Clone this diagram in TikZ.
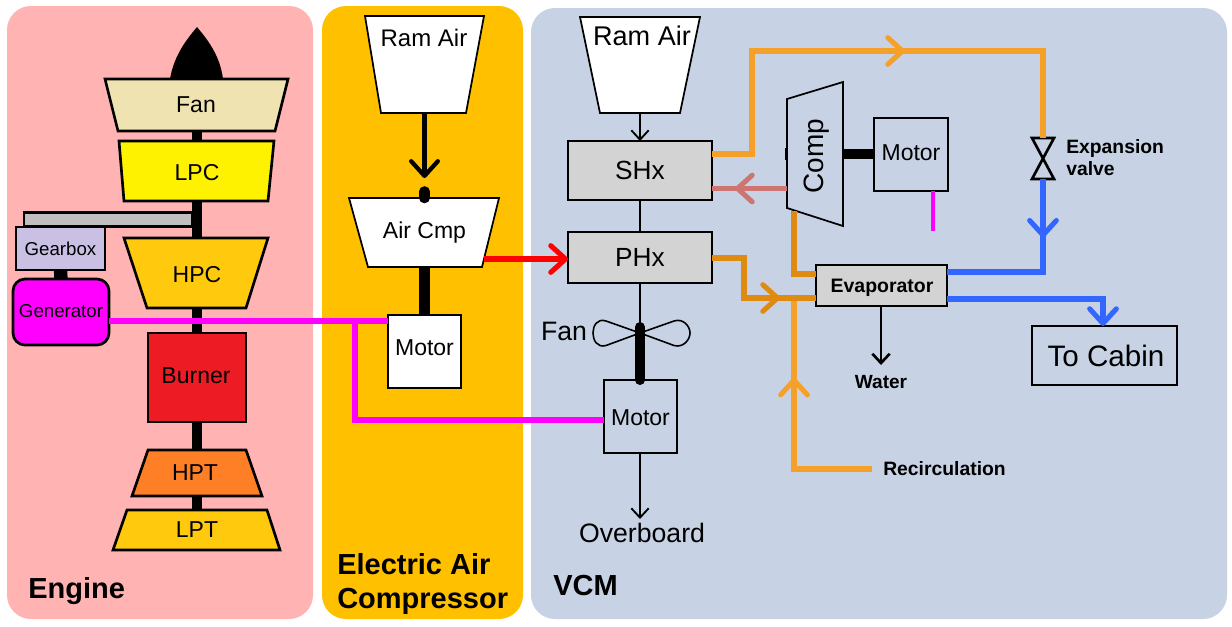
\documentclass[tikz,border=0pt]{standalone}
\usepackage{fontspec}
\setmainfont{Liberation Sans}
\usetikzlibrary{arrows.meta,decorations.markings,calc}
\definecolor{enginebg}{HTML}{FFB3B3}
\definecolor{eacbg}{HTML}{FFC000}
\definecolor{vcmbg}{HTML}{C7D3E5}
\definecolor{fanfill}{HTML}{EFE3B1}
\definecolor{lpcfill}{HTML}{FFF200}
\definecolor{hpcfill}{HTML}{FFC90E}
\definecolor{burnerfill}{HTML}{ED1C24}
\definecolor{hptfill}{HTML}{FF7F27}
\definecolor{gearfill}{HTML}{C9C0E4}
\definecolor{hxfill}{HTML}{D3D3D3}
\definecolor{lightor}{HTML}{F5A028}
\definecolor{darkor}{HTML}{DF8A10}
\definecolor{coral}{HTML}{CD7570}
\definecolor{bluel}{HTML}{3366FF}
\definecolor{pinkl}{HTML}{FF00FF}
\tikzset{
  x=0.75pt,y=-0.75pt,
  sized/.style 2 args={minimum width=#1*0.75pt,minimum height=#2*0.75pt,inner sep=0pt,outer sep=0pt},
  panel/.style={rounded corners=18pt,draw=none},
  thickbox/.style={draw=black,line width=2pt},
  thinbox/.style={draw=black,line width=1.3pt},
  caption/.style={font=\fontsize{21.75}{26}\selectfont\bfseries,anchor=west,inner sep=0pt},
  lab/.style={font=\fontsize{17.25}{20}\selectfont,inner sep=0pt},
  shaft/.style={line width=8pt,draw=black},
  thinline/.style={line width=1.4pt,draw=black},
  openhead/.style={-{Straight Barb[length=7pt,width=13pt]}},
  bighead/.style={-{Straight Barb[round,length=11pt,width=20pt]}},
  pipe/.style={line width=3.8pt,line join=miter},
  chev/.style={postaction={decorate},decoration={markings,mark=at position #1 with {\arrow{Straight Barb[round,length=11pt,width=20pt]}}}},
  endchev/.style={-{Straight Barb[round,length=11pt,width=20pt]}},
}
\begin{document}
\begin{tikzpicture}
\useasboundingbox (0,0) rectangle (1232,626);
\fill[white] (0,0) rectangle (1232,626);
% panels
\node[panel,fill=enginebg,sized={306}{613}] (enginep) at (160,312.5) {};
\node[panel,fill=eacbg,sized={201}{613}] (eacp) at (422.5,312.5) {};
\node[panel,fill=vcmbg,sized={696}{611}] (vcmp) at (879,313.5) {};
\node[caption] (enginecap) at (28,591) {Engine};
\node[caption,font=\fontsize{21.75}{25.5}\selectfont\bfseries,align=left] (eaccap) at (337,584) {Electric Air\\Compressor};
\node[caption] (vcmcap) at (553,586) {VCM};
% engine nose
\fill[black] (170,79) .. controls (174,55) and (187,39) .. (197,27) .. controls (207,39) and (220,55) .. (223,79) -- cycle;
% engine parts
\draw[thickbox,fill=fanfill] (105,79) -- (288,79) -- (275,131) -- (118,131) -- cycle;
\node[lab] (fan) at (196,105) {Fan};
\draw[thickbox,fill=lpcfill] (119,141) -- (274,141) -- (268,201) -- (124,201) -- cycle;
\node[lab] (lpc) at (197,173) {LPC};
\draw[thickbox,fill=hpcfill] (124,238) -- (268,238) -- (246,308) -- (147,308) -- cycle;
\node[lab] (hpc) at (197,275) {HPC};
\node[thickbox,fill=burnerfill,sized={98}{89}] (burner) at (197,377.5) {};
\node[lab] (burnertext) at (196,376) {Burner};
\draw[thickbox,fill=hptfill] (148,450) -- (246,450) -- (262,496) -- (132,496) -- cycle;
\node[lab] (hpt) at (195,473) {HPT};
\draw[thickbox,fill=hpcfill] (127,510) -- (267,510) -- (280,550) -- (113,550) -- cycle;
\node[lab] (lpt) at (197,530) {LPT};
\coordinate (fanb) at (197,131); \coordinate (lpct) at (197,141);
\coordinate (lpcb) at (197,201); \coordinate (hpct) at (197,238);
\coordinate (hpcb) at (197,308);
\coordinate (hptt) at (197,450); \coordinate (hptb) at (197,496); \coordinate (lptt) at (197,510);
\draw[shaft] (fanb) -- (lpct);
\draw[shaft] (lpcb) -- (hpct);
\draw[shaft] (hpcb) -- (burner.north);
\draw[shaft] (burner.south) -- (hptt);
\draw[shaft] (hptb) -- (lptt);
\node[thickbox,fill=gray!50,draw=black,sized={168}{14},line width=1.6pt] (bar) at (108,219.5) {};
\node[thickbox,fill=gearfill,sized={89}{43},font=\fontsize{14}{16}\selectfont] (gearbox) at (60.5,248.5) {Gearbox};
\node[thickbox,fill=pinkl,sized={96}{66},rounded corners=9pt] (generator) at (61,312) {};
\node[lab,font=\fontsize{14}{16}\selectfont] (gentext) at (61,311) {Generator};
\draw[line width=10pt,draw=black] (gearbox.south) -- (generator.north);
% EAC
\draw[thinbox,fill=white] (365,16) -- (484,16) -- (466,113) -- (381,113) -- cycle;
\node[lab,font=\fontsize{18}{20}\selectfont] (ram1) at (424,38) {Ram Air};
\draw[thickbox,fill=white,line width=1.3pt] (349,198) -- (499,198) -- (482,267) -- (368,267) -- cycle;
\node[lab] (aircmp) at (424.5,233) {Air Cmp};
\node[thinbox,fill=white,sized={73}{73}] (motor1) at (424.5,351.5) {};
\node[lab] (motor1text) at (424.5,348) {Motor};
\coordinate (ram1b) at (424.5,114); \coordinate (cmpdot) at (424.5,178);
\coordinate (cmpt) at (424.5,198); \coordinate (cmpb) at (424.5,267);
\coordinate (cmpout) at (484,259);
\draw[line width=3.2pt,draw=black,bighead] (ram1b) -- (cmpdot);
\draw[line width=8pt,line cap=round] (424.5,191.5) -- (cmpt);
\draw[shaft] (cmpb) -- (motor1.north);
% VCM
\draw[thinbox,fill=white] (580,17) -- (700,17) -- (680,113) -- (600,113) -- cycle;
\node[lab,font=\fontsize{20.3}{22}\selectfont] (ram2) at (642,36) {Ram Air};
\node[thinbox,fill=hxfill,sized={144}{59},font=\fontsize{19.7}{22}\selectfont] (shx) at (640,170.5) {SHx};
\node[thinbox,fill=hxfill,sized={144}{51},font=\fontsize{19.7}{22}\selectfont] (phx) at (640,257.5) {PHx};
\coordinate (ram2b) at (640,113);
\draw[thinline,openhead] (ram2b) -- (shx.north);
\draw[thinline] (shx.south) -- (phx.north);
\node[lab,font=\fontsize{20}{22}\selectfont] (fanlab) at (564,331) {Fan};
\coordinate (fanc) at (640,333);
\draw[line width=1.2pt,line join=round] (fanc) -- (606,321) .. controls (597,318) and (593,326) .. (593,333) .. controls (593,340) and (597,348) .. (606,345.5) -- (fanc) -- (674,321) .. controls (683,318) and (690,326) .. (690,333) .. controls (690,340) and (683,348) .. (674,345.5) -- cycle;
\node[thinbox,fill=vcmbg,sized={73}{73}] (motor2) at (640.5,416.5) {};
\node[lab] (motor2text) at (640.5,418) {Motor};
\draw[thinline] (phx.south) -- (640,325);
\draw[line width=7.5pt,line cap=round] (640,327) -- (motor2.north -| fanc);
\node[lab,font=\fontsize{20}{22}\selectfont] (over) at (642,533) {Overboard};
\coordinate (overt) at (640,519);
\draw[thinline,openhead] (motor2.south -| overt) -- (overt);
% compressor
\draw[thinbox] (787,99) -- (843,82) -- (843,226) -- (787,208) -- cycle;
\draw[line width=1.5pt] (785.7,148) -- (785.7,160);
\node[lab,rotate=90,font=\fontsize{21}{24}\selectfont] (comp) at (817,156) {Comp};
\node[thinbox,fill=vcmbg,sized={74}{73}] (motor3) at (911,154.5) {};
\node[lab] (motor3text) at (911,153) {Motor};
\coordinate (compr) at (843,154);
\draw[line width=7.5pt] (compr) -- (motor3.west |- compr);
\node[thinbox,fill=hxfill,sized={131}{41}] (evap) at (881.5,285.5) {};
\node[lab,font=\fontsize{14.6}{17}\selectfont\bfseries] (evaptext) at (882,288) {Evaporator};
\node[thinbox,sized={145}{59}] (cabin) at (1104.5,355.5) {};
\node[lab,font=\fontsize{22.2}{24}\selectfont] (cabintext) at (1106,356) {To Cabin};
\node[lab,font=\fontsize{14.3}{16}\selectfont\bfseries] (water) at (881,382) {Water};
\node[lab,font=\fontsize{14.5}{17}\selectfont\bfseries,anchor=west] (recirc) at (883,469) {Recirculation};
\node[lab,font=\fontsize{14.5}{16.5}\selectfont\bfseries,anchor=west,align=left] (exp) at (1066,158) {Expansion\\valve};
\coordinate (watert) at (881,365);
\draw[line width=2pt,openhead] (evap.south -| watert) -- (watert);
% valve
\coordinate (valvet) at (1043,138); \coordinate (valveb) at (1043,179); \coordinate (valvec) at (1043,158.5);
\draw[line width=2pt,line join=miter] (1032,138) -- (1054,138) -- (1032,179) -- (1054,179) -- cycle;
% power lines
\coordinate (genout) at (109,321);
\coordinate (junction) at (355,321);
\draw[pinkl,line width=3.8pt] (generator.east |- genout) -- (motor1.west |- genout);
\draw[pinkl,line width=3.8pt] (junction) |- (motor2.west |- 0,420);
\coordinate (m3tail) at (933,231);
\draw[pinkl,line width=3.2pt] (motor3.south -| m3tail) -- (m3tail);
% red
\draw[red,line width=3.8pt,endchev] (cmpout) -- (phx.west |- cmpout);
% refrigerant
\coordinate (shxout) at (712,154);
\draw[lightor,pipe,chev={222pt}] (shxout) -| (752,51) -| (valvet);
\coordinate (compin) at (787,188.5);
\draw[coral,pipe,chev={39pt}] (compin) -- (shx.east |- compin);
\coordinate (recstart) at (872,469);
\coordinate (recjoin) at (794,298);
\draw[lightor,pipe,chev={127pt}] (recstart) -| (recjoin);
\coordinate (compb) at (794,211);
\coordinate (evapin) at (816,274);
\draw[darkor,pipe] (compb) |- (evapin);
\coordinate (phxout) at (712,258);
\coordinate (evapjoin) at (816,298);
\draw[darkor,pipe,chev={81pt}] (phxout) -| (744,298) -- (evapjoin);
\coordinate (evapblue) at (947,272);
\draw[bluel,pipe,chev={44pt}] (valveb) |- (evapblue);
\coordinate (evapcab) at (947,299);
\draw[bluel,pipe,endchev] (evapcab) -| (cabin.north -| 1103,0);
\end{tikzpicture}
\end{document}
